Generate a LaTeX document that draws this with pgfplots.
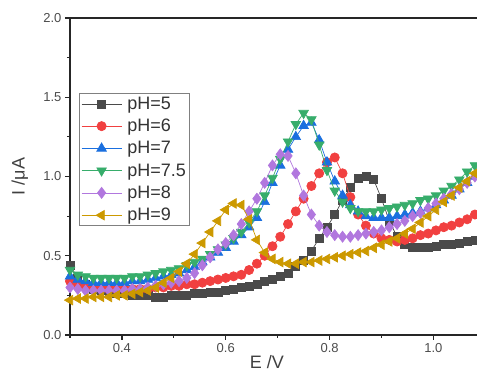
\documentclass[border=0pt]{standalone}
\usepackage{fontspec}
\setmainfont{Liberation Sans}
\usepackage{pgfplots}
\pgfplotsset{compat=1.18}
\definecolor{cA}{HTML}{4A4A4A}
\definecolor{cB}{HTML}{F14040}
\definecolor{cC}{HTML}{1A6FDF}
\definecolor{cD}{HTML}{37AD6B}
\definecolor{cE}{HTML}{B177DE}
\definecolor{cF}{HTML}{CC9900}
\pgfplotstableread{
x y
0.300 0.44
0.315 0.36
0.330 0.32
0.345 0.29
0.360 0.28
0.375 0.27
0.390 0.26
0.405 0.26
0.420 0.25
0.435 0.25
0.450 0.25
0.465 0.24
0.480 0.24
0.495 0.25
0.510 0.25
0.525 0.25
0.540 0.26
0.555 0.26
0.570 0.27
0.585 0.27
0.600 0.28
0.615 0.29
0.630 0.30
0.645 0.31
0.660 0.32
0.675 0.34
0.690 0.35
0.705 0.37
0.720 0.39
0.735 0.43
0.750 0.47
0.765 0.53
0.780 0.61
0.795 0.68
0.810 0.76
0.825 0.85
0.840 0.93
0.855 0.99
0.870 1.00
0.885 0.98
0.900 0.86
0.915 0.72
0.930 0.62
0.945 0.57
0.960 0.55
0.975 0.55
0.990 0.55
1.005 0.56
1.020 0.57
1.035 0.57
1.050 0.58
1.065 0.59
1.080 0.60
}\phA
\pgfplotstableread{
x y
0.300 0.34
0.315 0.32
0.330 0.31
0.345 0.30
0.360 0.30
0.375 0.29
0.390 0.29
0.405 0.29
0.420 0.29
0.435 0.29
0.450 0.29
0.465 0.30
0.480 0.30
0.495 0.31
0.510 0.31
0.525 0.32
0.540 0.32
0.555 0.33
0.570 0.34
0.585 0.35
0.600 0.36
0.615 0.37
0.630 0.38
0.645 0.41
0.660 0.45
0.675 0.50
0.690 0.56
0.705 0.62
0.720 0.70
0.735 0.78
0.750 0.86
0.765 0.94
0.780 1.02
0.795 1.09
0.810 1.12
0.825 1.02
0.840 0.87
0.855 0.76
0.870 0.69
0.885 0.64
0.900 0.61
0.915 0.60
0.930 0.59
0.945 0.60
0.960 0.61
0.975 0.63
0.990 0.64
1.005 0.66
1.020 0.68
1.035 0.69
1.050 0.71
1.065 0.73
1.080 0.76
}\phB
\pgfplotstableread{
x y
0.300 0.37
0.315 0.35
0.330 0.34
0.345 0.33
0.360 0.33
0.375 0.33
0.390 0.33
0.405 0.33
0.420 0.34
0.435 0.34
0.450 0.35
0.465 0.36
0.480 0.37
0.495 0.38
0.510 0.39
0.525 0.41
0.540 0.43
0.555 0.46
0.570 0.49
0.585 0.52
0.600 0.55
0.615 0.59
0.630 0.63
0.645 0.68
0.660 0.74
0.675 0.84
0.690 0.96
0.705 1.07
0.720 1.17
0.735 1.25
0.750 1.32
0.765 1.34
0.780 1.23
0.795 1.09
0.810 0.97
0.825 0.88
0.840 0.82
0.855 0.78
0.870 0.75
0.885 0.74
0.900 0.74
0.915 0.74
0.930 0.75
0.945 0.76
0.960 0.77
0.975 0.78
0.990 0.80
1.005 0.82
1.020 0.85
1.035 0.88
1.050 0.92
1.065 0.96
1.080 1.00
}\phC
\pgfplotstableread{
x y
0.300 0.41
0.315 0.38
0.330 0.37
0.345 0.36
0.360 0.36
0.375 0.36
0.390 0.36
0.405 0.36
0.420 0.37
0.435 0.37
0.450 0.38
0.465 0.39
0.480 0.40
0.495 0.41
0.510 0.42
0.525 0.44
0.540 0.46
0.555 0.48
0.570 0.51
0.585 0.54
0.600 0.57
0.615 0.61
0.630 0.65
0.645 0.71
0.660 0.78
0.675 0.88
0.690 0.99
0.705 1.11
0.720 1.22
0.735 1.33
0.750 1.40
0.765 1.36
0.780 1.20
0.795 1.04
0.810 0.91
0.825 0.84
0.840 0.80
0.855 0.78
0.870 0.78
0.885 0.78
0.900 0.79
0.915 0.80
0.930 0.81
0.945 0.82
0.960 0.83
0.975 0.85
0.990 0.86
1.005 0.88
1.020 0.91
1.035 0.94
1.050 0.98
1.065 1.03
1.080 1.07
}\phD
\pgfplotstableread{
x y
0.300 0.30
0.315 0.29
0.330 0.28
0.345 0.28
0.360 0.28
0.375 0.28
0.390 0.28
0.405 0.28
0.420 0.29
0.435 0.29
0.450 0.30
0.465 0.31
0.480 0.32
0.495 0.33
0.510 0.34
0.525 0.36
0.540 0.39
0.555 0.44
0.570 0.49
0.585 0.54
0.600 0.58
0.615 0.63
0.630 0.70
0.645 0.78
0.660 0.86
0.675 0.96
0.690 1.07
0.705 1.14
0.720 1.13
0.735 1.02
0.750 0.88
0.765 0.76
0.780 0.69
0.795 0.65
0.810 0.63
0.825 0.62
0.840 0.62
0.855 0.63
0.870 0.64
0.885 0.65
0.900 0.66
0.915 0.68
0.930 0.70
0.945 0.72
0.960 0.75
0.975 0.77
0.990 0.80
1.005 0.83
1.020 0.86
1.035 0.89
1.050 0.92
1.065 0.96
1.080 1.00
}\phE
\pgfplotstableread{
x y
0.300 0.22
0.315 0.23
0.330 0.23
0.345 0.24
0.360 0.24
0.375 0.24
0.390 0.25
0.405 0.25
0.420 0.26
0.435 0.27
0.450 0.28
0.465 0.30
0.480 0.33
0.495 0.36
0.510 0.40
0.525 0.45
0.540 0.51
0.555 0.58
0.570 0.65
0.585 0.72
0.600 0.79
0.615 0.83
0.630 0.82
0.645 0.73
0.660 0.60
0.675 0.52
0.690 0.48
0.705 0.46
0.720 0.45
0.735 0.45
0.750 0.46
0.765 0.46
0.780 0.47
0.795 0.48
0.810 0.49
0.825 0.50
0.840 0.51
0.855 0.52
0.870 0.53
0.885 0.55
0.900 0.57
0.915 0.59
0.930 0.61
0.945 0.64
0.960 0.67
0.975 0.71
0.990 0.75
1.005 0.79
1.020 0.84
1.035 0.88
1.050 0.93
1.065 0.97
1.080 1.02
}\phF
\begin{document}
\begin{tikzpicture}
\begin{axis}[
  at={(0pt,0pt)}, anchor=south west,
  scale only axis, width=407pt, height=317pt,
  xmin=0.3, xmax=1.084, ymin=0, ymax=2,
  axis x line*=box, axis y line*=left,
  axis line style={-, line width=1.3pt, color=black!85},
  xtick={0.4,0.6,0.8,1.0}, minor xtick={0.3,0.5,0.7,0.9},
  ytick={0,0.5,1,1.5,2}, minor ytick={0.25,0.75,1.25,1.75},
  tick pos=left, tick align=outside,
  major tick length=5pt, minor tick length=3pt,
  every tick/.style={line width=1.2pt, black!85},
  ticklabel style={font=\fontsize{13}{15}\selectfont, text=black!70},
  /pgf/number format/assume math mode=true,
  /pgf/number format/fixed, /pgf/number format/fixed zerofill, /pgf/number format/precision=1,
  xlabel={E /V}, ylabel={I /μA},
  xlabel style={font=\fontsize{18}{20}\selectfont, text=black!75, at={(axis description cs:0.484,-0.085)}, anchor=center},
  ylabel style={font=\fontsize{18}{20}\selectfont, text=black!75, at={(axis description cs:-0.123,0.5)}, anchor=center},
  clip mode=individual,
  legend style={at={(axis description cs:0.022,0.763)}, anchor=north west, draw=black!50, line width=0.6pt,
    font=\fontsize{18}{20}\selectfont, text=black!80, inner sep=2pt, row sep=5.3pt,
    nodes={inner sep=1.5pt}, cells={anchor=west},
    /tikz/every odd column/.append style={column sep=4pt}},
  legend image code/.code={\draw[mark repeat=2, mark phase=2] plot coordinates {(0pt,0pt) (20pt,0pt) (40pt,0pt)};},
  every axis plot/.append style={line width=0.7pt},
]
\addplot[cA, mark=square*, mark size=4pt] table {\phA};
\addlegendentry{pH=5}
\addplot[cB, mark=*, mark size=4.6pt] table {\phB};
\addlegendentry{pH=6}
\addplot[cC, mark=triangle*, mark size=5.5pt] table {\phC};
\addlegendentry{pH=7}
\addplot[cD, mark=triangle*, mark size=5.5pt, mark options={rotate=180}] table {\phD};
\addlegendentry{pH=7.5}
\addplot[cE, mark=diamond*, mark size=5.5pt] table {\phE};
\addlegendentry{pH=8}
\addplot[cF, mark=triangle*, mark size=5.5pt, mark options={rotate=90}] table {\phF};
\addlegendentry{pH=9}
\end{axis}
\pgfresetboundingbox
\useasboundingbox (-70pt,-39pt) rectangle (407pt,335pt);
\end{tikzpicture}
\end{document}
